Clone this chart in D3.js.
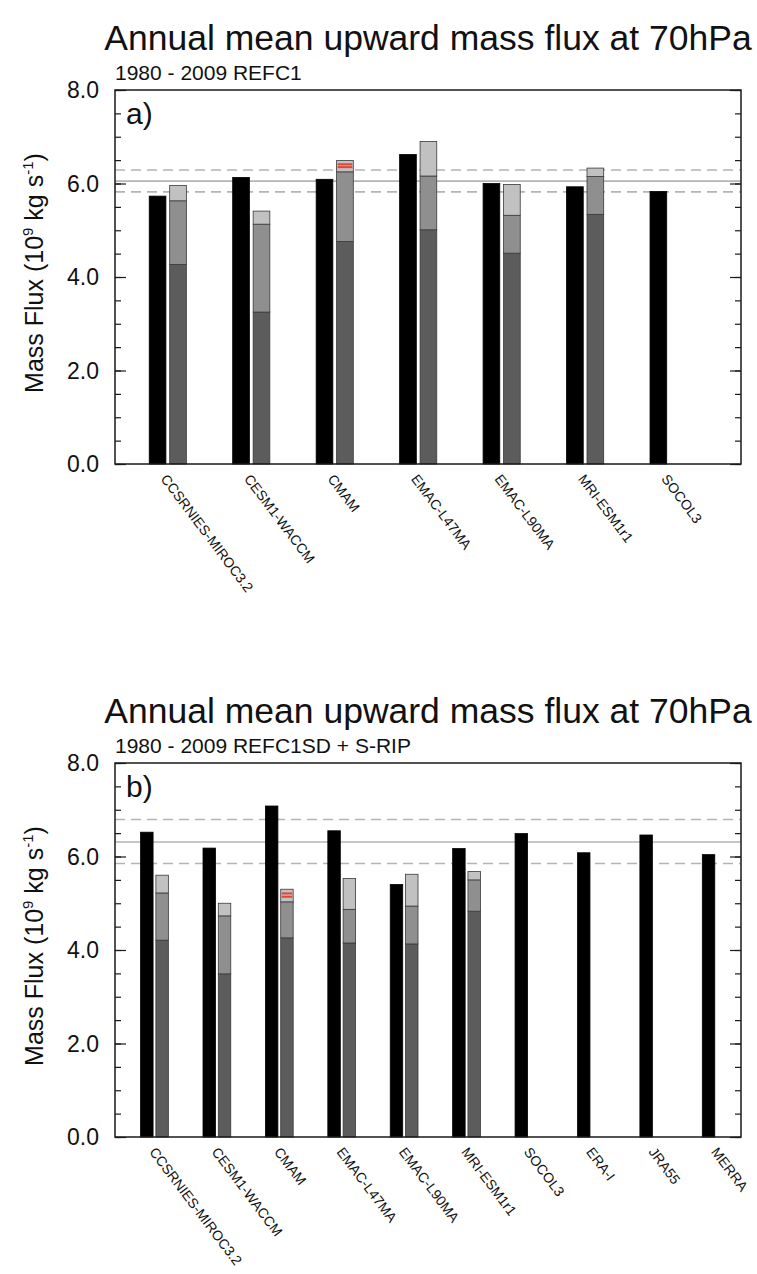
<!DOCTYPE html>
<html>
<head>
<meta charset="utf-8">
<script src="https://cdn.jsdelivr.net/npm/d3@7"></script>
<style>
  body { margin: 0; background: #fff; }
  svg { display: block; }
</style>
</head>
<body>
<svg id="fig" width="757" height="1274"></svg>
<script>
// ---- panel a) REFC1 ----
const modelsA = ["CCSRNIES-MIROC3.2", "CESM1-WACCM", "CMAM", "EMAC-L47MA", "EMAC-L90MA", "MRI-ESM1r1", "SOCOL3"];
const totalA = [5.73, 6.13, 6.09, 6.62, 6.00, 5.93, 5.83];
// stacked components (resolved / orographic GWD / non-orographic GWD)
const resolvedA = [4.27, 3.25, 4.76, 5.01, 4.51, 5.34, null];
const ogwdA = [1.36, 1.88, 1.49, 1.15, 0.81, 0.81, null];
const nogwdA = [0.33, 0.28, 0.24, 0.74, 0.66, 0.18, null];
const redA = { CMAM: [6.41, 6.35] };
const refA = [5.82, 6.05, 6.29]; // mean - sd, mean, mean + sd

// ---- panel b) REFC1SD + S-RIP ----
const modelsB = ["CCSRNIES-MIROC3.2", "CESM1-WACCM", "CMAM", "EMAC-L47MA", "EMAC-L90MA", "MRI-ESM1r1", "SOCOL3", "ERA-I", "JRA55", "MERRA"];
const totalB = [6.52, 6.18, 7.08, 6.55, 5.40, 6.17, 6.49, 6.08, 6.46, 6.04];
const resolvedB = [4.21, 3.49, 4.26, 4.15, 4.13, 4.83, null, null, null, null];
const ogwdB = [1.01, 1.24, 0.77, 0.72, 0.81, 0.67, null, null, null, null];
const nogwdB = [0.38, 0.27, 0.27, 0.66, 0.68, 0.18, null, null, null, null];
const redB = { CMAM: [5.21, 5.14] };
const refB = [5.85, 6.31, 6.79];

const yTicks = [0, 2, 4, 6, 8];
const TITLE = "Annual mean upward mass flux at 70hPa";

const svg = d3.select("#fig");
const FONT = "'Liberation Sans', Arial, Helvetica, sans-serif";
const COL = { dark: "#5c5c5c", mid: "#8f8f8f", light: "#c1c1c1", red: "#e8432f", ref: "#b4b4b4", ink: "#1a1a1a" };

function panel(p) {
  const g = svg.append("g");
  const x = d3.scaleLinear().domain([0.5, p.xMax]).range([115, 741]);
  const y = d3.scaleLinear().domain([0, 8]).range([p.bottom, p.top]);

  // titles
  g.append("text").attr("x", 428).attr("y", p.top - 40)
    .attr("text-anchor", "middle").attr("font-family", FONT).attr("font-size", 35.5)
    .attr("fill", "#111").text(TITLE);
  g.append("text").attr("x", 115).attr("y", p.top - 10)
    .attr("font-family", FONT).attr("font-size", 21).attr("fill", "#111").text(p.subtitle);

  // reference band (mean and +/- spread)
  g.selectAll("line.ref").data(p.ref).join("line").attr("class", "ref")
    .attr("x1", x.range()[0]).attr("x2", x.range()[1])
    .attr("y1", (d) => y(d)).attr("y2", (d) => y(d))
    .attr("stroke", COL.ref).attr("stroke-width", 1.6)
    .attr("stroke-dasharray", (d, i) => (i === 1 ? null : "10,6"));

  // black bars: total
  const bw = 0.2;
  g.selectAll("rect.tot").data(p.total).join("rect").attr("class", "tot")
    .attr("x", (d, i) => x(i + 0.91)).attr("width", x(bw) - x(0))
    .attr("y", (d) => y(d)).attr("height", (d) => y(0) - y(d))
    .attr("fill", "#000").attr("stroke", "#000").attr("stroke-width", 0.8);

  // grey stacked bars
  const rows = p.models.map((m, i) => ({
    i, m, resolved: p.resolved[i], ogwd: p.ogwd[i], nogwd: p.nogwd[i],
  })).filter((r) => r.resolved != null);
  const series = d3.stack().keys(["resolved", "ogwd", "nogwd"])(rows);
  const fills = { resolved: COL.dark, ogwd: COL.mid, nogwd: COL.light };
  g.selectAll("g.layer").data(series).join("g").attr("class", "layer")
    .attr("fill", (s) => fills[s.key])
    .selectAll("rect").data((s) => s).join("rect")
    .attr("x", (d) => x(d.data.i + 1.155)).attr("width", x(bw) - x(0))
    .attr("y", (d) => y(d[1])).attr("height", (d) => y(d[0]) - y(d[1]))
    .attr("stroke", "#3a3a3a").attr("stroke-width", 0.8);

  // red markers inside the CMAM stack
  Object.entries(p.red).forEach(([m, vals]) => {
    const i = p.models.indexOf(m);
    g.selectAll(null).data(vals).join("line")
      .attr("x1", x(i + 1.155) + 1).attr("x2", x(i + 1.155 + bw) - 1)
      .attr("y1", (d) => y(d)).attr("y2", (d) => y(d))
      .attr("stroke", COL.red).attr("stroke-width", 2);
  });

  // frame
  g.append("rect").attr("x", 115).attr("y", p.top)
    .attr("width", 626).attr("height", p.bottom - p.top)
    .attr("fill", "none").attr("stroke", COL.ink).attr("stroke-width", 1.5);

  // y axes: inward ticks on both sides
  const left = g.append("g").attr("transform", "translate(115,0)")
    .call(d3.axisRight(y).tickValues(d3.range(0, 8.01, 0.5)).tickSize(6).tickFormat(""));
  const left2 = g.append("g").attr("transform", "translate(115,0)")
    .call(d3.axisRight(y).tickValues(yTicks).tickSize(11).tickFormat(""));
  const right = g.append("g").attr("transform", "translate(741,0)")
    .call(d3.axisLeft(y).tickValues(d3.range(0, 8.01, 0.5)).tickSize(6).tickFormat(""));
  const right2 = g.append("g").attr("transform", "translate(741,0)")
    .call(d3.axisLeft(y).tickValues(yTicks).tickSize(11).tickFormat(""));
  [left, left2, right, right2].forEach((a) => {
    a.select(".domain").remove();
    a.selectAll("line").attr("stroke", COL.ink).attr("stroke-width", 1.2);
  });

  g.selectAll("text.yt").data(yTicks).join("text").attr("class", "yt")
    .attr("x", 99).attr("y", (d) => y(d)).attr("dy", "0.36em")
    .attr("text-anchor", "end").attr("font-family", FONT).attr("font-size", 23)
    .attr("fill", "#111").text(d3.format(".1f"));

  // y title with super-scripts
  const yt = g.append("text")
    .attr("transform", `translate(43,${(p.top + p.bottom) / 2 - 4}) rotate(-90)`)
    .attr("text-anchor", "middle").attr("font-family", FONT).attr("font-size", 25).attr("fill", "#111");
  yt.append("tspan").text("Mass Flux (10");
  yt.append("tspan").attr("dy", -10).attr("font-size", 15).text("9");
  yt.append("tspan").attr("dy", 10).text(" kg s");
  yt.append("tspan").attr("dy", -10).attr("font-size", 15).text("-1");
  yt.append("tspan").attr("dy", 10).text(")");

  // panel letter
  g.append("text").attr("x", 126).attr("y", p.top + 34)
    .attr("font-family", FONT).attr("font-size", 30).attr("fill", "#111").text(p.letter);

  // rotated category labels
  g.selectAll("text.cat").data(p.models).join("text").attr("class", "cat")
    .attr("transform", (d, i) => `translate(${x(i + 1.04)},${p.bottom + 15}) rotate(53)`)
    .attr("font-family", FONT).attr("font-size", 14).attr("fill", "#111").text((d) => d);
}

panel({
  top: 90, bottom: 464, xMax: 8.0, letter: "a)", subtitle: "1980 - 2009 REFC1",
  models: modelsA, total: totalA, resolved: resolvedA, ogwd: ogwdA, nogwd: nogwdA, red: redA, ref: refA,
});
panel({
  top: 763, bottom: 1137, xMax: 10.53, letter: "b)", subtitle: "1980 - 2009 REFC1SD + S-RIP",
  models: modelsB, total: totalB, resolved: resolvedB, ogwd: ogwdB, nogwd: nogwdB, red: redB, ref: refB,
});
</script>
</body>
</html>
